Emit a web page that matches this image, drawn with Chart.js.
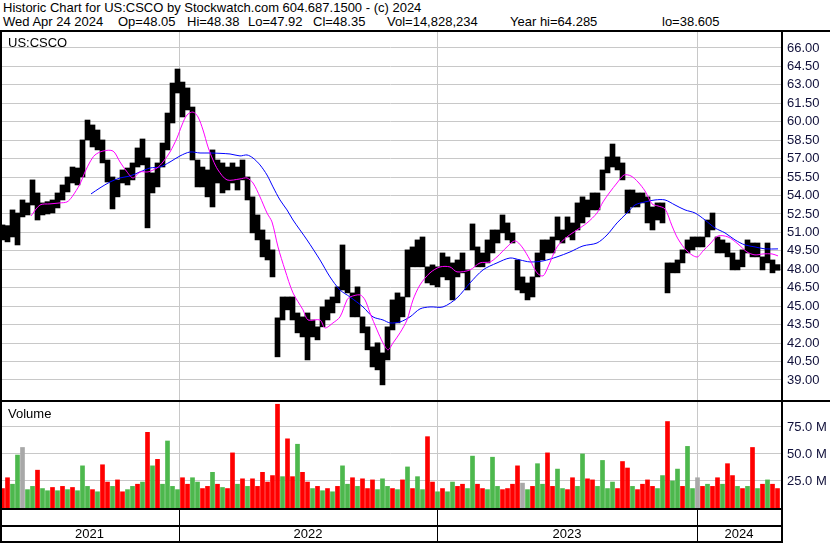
<!DOCTYPE html>
<html>
<head>
<meta charset="utf-8">
<title>US:CSCO Historic Chart</title>
<script src="https://cdn.jsdelivr.net/npm/chart.js@4.4.1/dist/chart.umd.min.js"></script>
<style>
  body { margin: 0; background: #fff; }
  #wrap { position: relative; width: 830px; height: 543px; overflow: hidden; font-family: "Liberation Sans", Arial, sans-serif; color: #000; }
  .hdr { position: absolute; font-size: 13px; line-height: 13px; white-space: pre; }
  .panel-label { position: absolute; font-size: 13px; line-height: 13px; }
  .rule { position: absolute; background: #000; }
  canvas { position: absolute; left: 0; }
</style>
</head>
<body>
<div id="wrap">
  <div class="hdr" style="left:3px;top:1px">Historic Chart for US:CSCO by Stockwatch.com 604.687.1500 - (c) 2024</div>
  <div class="hdr" style="left:3px;top:15px">Wed Apr 24 2024</div>
  <div class="hdr" style="left:118px;top:15px">Op=48.05</div>
  <div class="hdr" style="left:187px;top:15px">Hi=48.38</div>
  <div class="hdr" style="left:248px;top:15px">Lo=47.92</div>
  <div class="hdr" style="left:313px;top:15px">Cl=48.35</div>
  <div class="hdr" style="left:387px;top:15px">Vol=14,828,234</div>
  <div class="hdr" style="left:510px;top:15px">Year hi=64.285</div>
  <div class="hdr" style="left:662px;top:15px">lo=38.605</div>
  <canvas id="priceChart" width="830" height="368" style="top:32px"></canvas>
  <canvas id="volumeChart" width="830" height="142" style="top:401px"></canvas>
  <div class="panel-label" style="left:8px;top:36px">US:CSCO</div>
  <div class="panel-label" style="left:8px;top:407px">Volume</div>
  <div class="rule" style="left:0;top:30px;width:830px;height:2px"></div>
  <div class="rule" style="left:0;top:400px;width:830px;height:2px"></div>
  <div class="rule" style="left:0;top:30px;width:2px;height:513px"></div>
  <div class="rule" style="left:781px;top:30px;width:2px;height:513px"></div>
</div>
<script>
// Weekly (5-session) price ranges, Apr 2021 - Apr 2024
const priceHigh = [
  51.61, 51.55, 52.83, 52.58, 53.64, 53.40, 55.27, 54.21, 53.40, 53.50,
  53.64, 54.21, 54.86, 55.51, 56.32, 56.24, 58.52, 60.14, 59.74, 59.33,
  58.52, 56.89, 55.51, 55.27, 56.08, 56.24, 56.65, 57.87, 58.60, 57.06,
  55.84, 56.65, 58.27, 60.71, 63.15, 64.29, 63.23, 62.75, 61.20, 56.89,
  56.32, 56.08, 57.71, 56.89, 56.65, 56.32, 56.65, 56.32, 56.89, 55.51,
  53.89, 52.42, 51.20, 50.39, 49.58, 44.05, 45.75, 45.75, 45.75, 44.45,
  44.13, 44.45, 43.88, 43.32, 44.94, 45.51, 45.75, 46.57, 49.98, 47.95,
  46.08, 46.57, 44.13, 43.32, 41.69, 42.02, 41.20, 43.32, 45.51, 46.08,
  45.75, 49.58, 49.82, 50.39, 50.63, 48.20, 48.36, 48.20, 49.33, 49.01,
  48.52, 48.76, 49.33, 47.95, 51.69, 49.82, 49.33, 50.39, 51.20, 51.20,
  52.42, 51.77, 50.96, 48.76, 47.38, 46.89, 47.38, 49.33, 50.39, 50.39,
  50.63, 52.26, 51.20, 52.26, 51.77, 53.40, 53.89, 53.64, 54.21, 54.21,
  56.08, 57.14, 58.19, 57.14, 56.65, 54.45, 54.45, 54.21, 54.21, 53.89,
  53.07, 53.40, 53.40, 48.52, 48.52, 48.76, 49.58, 50.39, 50.63, 50.63,
  50.63, 52.01, 52.58, 50.63, 50.39, 50.14, 49.33, 48.76, 49.58, 50.39,
  50.14, 50.14, 49.01, 50.14, 48.76, 48.38
];
const priceLow = [
  50.39, 50.23, 50.63, 49.98, 52.26, 52.42, 53.23, 52.01, 52.42, 52.50,
  52.58, 52.99, 53.64, 54.29, 55.02, 54.86, 55.51, 58.52, 57.95, 57.71,
  56.65, 55.10, 52.91, 53.89, 55.02, 54.86, 55.27, 56.32, 56.49, 51.37,
  54.21, 54.70, 56.32, 57.71, 59.90, 62.34, 60.39, 60.96, 56.89, 54.70,
  54.70, 53.89, 53.07, 55.02, 54.21, 54.45, 55.02, 54.45, 55.27, 53.64,
  50.96, 50.39, 49.01, 48.76, 47.38, 40.88, 43.88, 44.70, 43.88, 42.83,
  42.50, 40.63, 42.50, 42.26, 43.32, 43.88, 44.45, 45.27, 46.32, 46.08,
  44.13, 44.13, 42.83, 41.45, 40.06, 39.82, 38.60, 40.63, 43.07, 43.64,
  44.13, 45.75, 48.20, 48.20, 48.20, 46.89, 46.73, 46.57, 47.38, 47.14,
  45.51, 47.38, 47.71, 46.32, 49.58, 48.20, 48.20, 48.52, 49.33, 50.14,
  50.96, 50.39, 50.14, 46.32, 46.08, 45.51, 45.75, 47.38, 48.76, 49.33,
  49.33, 50.39, 50.14, 50.63, 50.39, 51.20, 51.77, 52.26, 52.83, 52.83,
  54.45, 55.84, 56.32, 56.08, 55.27, 52.58, 53.07, 53.07, 53.40, 51.77,
  51.20, 52.01, 51.77, 46.08, 47.71, 47.71, 48.52, 49.33, 49.58, 49.82,
  49.82, 50.63, 51.20, 49.33, 49.33, 49.01, 47.95, 47.95, 48.20, 49.33,
  49.01, 49.01, 47.95, 48.52, 47.71, 47.92
];
// volume in millions, and direction (1 up, -1 down, 0 unchanged)
const volume = [
  18, 28, 22, 49, 56, 17, 20, 35, 18, 16,
  19, 16, 20, 17, 19, 16, 39, 20, 17, 15,
  40, 24, 20, 26, 15, 17, 20, 22, 24, 70,
  39, 45, 22, 62, 20, 17, 28, 22, 28, 24,
  18, 20, 33, 22, 19, 18, 51, 22, 27, 20,
  27, 20, 33, 24, 30, 96, 29, 64, 29, 59,
  33, 24, 18, 20, 16, 18, 15, 20, 39, 22,
  28, 20, 27, 18, 26, 17, 27, 20, 18, 17,
  26, 38, 18, 29, 17, 66, 24, 15, 18, 15,
  24, 20, 22, 18, 48, 22, 18, 17, 47, 20,
  17, 18, 22, 39, 23, 17, 20, 41, 22, 51,
  20, 36, 18, 17, 28, 20, 50, 27, 26, 20,
  44, 18, 24, 18, 43, 37, 20, 17, 22, 26,
  20, 18, 30, 80, 25, 36, 20, 57, 18, 28,
  20, 22, 20, 28, 22, 41, 30, 20, 18, 20,
  56, 18, 22, 26, 22, 18
];
const volumeDir = [
  -1, -1, 1, 1, 0, 1, 1, -1, 1, 1,
  -1, 1, -1, 1, -1, 1, 1, 1, -1, 1,
  -1, -1, 1, -1, -1, 1, 1, -1, 1, -1,
  1, -1, 1, 1, 1, 1, -1, -1, 1, 1,
  -1, -1, 1, -1, 1, -1, -1, 1, -1, 1,
  -1, -1, -1, -1, -1, -1, 1, -1, -1, 1,
  -1, -1, 1, -1, 1, -1, 1, -1, 1, 1,
  -1, 1, -1, -1, -1, 1, 1, 1, -1, 1,
  -1, 1, -1, 1, 1, -1, -1, 1, -1, 1,
  1, -1, -1, 1, 1, -1, -1, 1, 1, 1,
  -1, -1, -1, -1, 0, 1, -1, 1, 1, -1,
  -1, 1, 1, -1, -1, 1, 1, -1, -1, 1,
  1, 1, 1, -1, -1, -1, 1, -1, -1, -1,
  -1, 1, 1, -1, 1, 1, -1, 1, 1, 0,
  -1, 1, -1, -1, 1, -1, -1, 1, -1, 1,
  -1, 1, -1, 1, -1, -1
];
// moving averages as [session, price]
const maFast = [
  [31, 52.34], [40, 53.23], [50, 53.32], [60, 53.40], [67, 53.48], [72, 53.89], [80, 54.94], [85, 55.92],
  [90, 56.73], [95, 57.30], [103, 57.62], [113, 57.62], [120, 56.73], [127, 55.92], [133, 55.43], [140, 55.92],
  [148, 55.92], [157, 56.24], [163, 56.73], [170, 57.54], [177, 58.68], [182, 59.74], [187, 60.55], [193, 60.79],
  [198, 60.39], [203, 59.33], [208, 57.95], [213, 56.89], [218, 56.08], [227, 55.27], [240, 55.35], [247, 55.43],
  [253, 55.02], [260, 53.89], [267, 52.58], [272, 51.85], [278, 49.82], [285, 47.95], [293, 46.08], [303, 44.70],
  [308, 43.88], [320, 43.88], [325, 43.23], [333, 43.64], [340, 44.13], [347, 45.51], [350, 45.75], [360, 45.92],
  [365, 45.51], [370, 44.45], [377, 43.07], [383, 42.01], [388, 41.45], [393, 42.01], [400, 42.83], [407, 43.88],
  [413, 45.51], [420, 46.73], [430, 47.71], [440, 48.19], [450, 48.19], [457, 47.79], [470, 47.95], [480, 48.52],
  [490, 48.60], [497, 49.01], [507, 49.82], [515, 50.31], [522, 49.82], [530, 48.76], [537, 47.71], [543, 47.46],
  [548, 48.19], [557, 49.82], [567, 50.63], [577, 51.20], [587, 51.77], [597, 52.58], [603, 53.48], [610, 54.29],
  [617, 55.02], [624, 55.67], [631, 55.59], [638, 55.10], [645, 54.37], [652, 53.32], [658, 53.15], [665, 52.91],
  [672, 51.53], [678, 50.47], [687, 49.49], [697, 49.00], [703, 49.49], [710, 50.06], [718, 50.71], [728, 50.63],
  [738, 50.06], [747, 49.41], [755, 49.17], [763, 49.25], [772, 49.25], [778, 49.09]
];
const maSlow = [
  [91, 54.13], [100, 54.62], [110, 55.10], [120, 55.43], [130, 55.59], [140, 55.92], [150, 56.24], [160, 56.32],
  [170, 56.73], [180, 57.22], [190, 57.54], [200, 57.46], [210, 57.46], [230, 57.38], [240, 57.22], [247, 57.30],
  [253, 57.05], [260, 56.49], [267, 55.67], [273, 54.70], [280, 53.64], [287, 52.83], [293, 52.01], [307, 50.39],
  [320, 48.76], [330, 47.38], [340, 46.32], [350, 45.75], [363, 44.94], [373, 44.13], [383, 43.88], [390, 43.64],
  [400, 43.72], [410, 44.13], [420, 44.78], [430, 44.94], [443, 44.94], [457, 45.67], [470, 46.89], [483, 47.95],
  [497, 48.52], [510, 48.92], [520, 48.76], [530, 48.60], [543, 48.68], [557, 49.01], [570, 49.41], [583, 49.90],
  [597, 50.14], [607, 50.79], [617, 51.77], [627, 52.58], [635, 53.23], [645, 53.48], [655, 53.64], [665, 53.64],
  [675, 53.23], [685, 52.83], [695, 52.58], [705, 52.01], [715, 51.36], [725, 50.96], [735, 50.39], [745, 49.98],
  [755, 49.82], [765, 49.66], [778, 49.66]
];
const priceTicks = [39.00, 40.50, 42.00, 43.50, 45.00, 46.50, 48.00, 49.50, 51.00, 52.50,
  54.00, 55.50, 57.00, 58.50, 60.00, 61.50, 63.00, 64.50, 66.00];
const volumeTicks = [25, 50, 75];
const yearLabels = ['2021', '2022', '2023', '2024'];
const yearBreaks = [179, 437, 697];   // session where each new year starts
const sessionsPerBar = 5;
const lastSession = 781;

document.addEventListener('DOMContentLoaded', () => {
    const FONT = '"Liberation Sans", Arial, sans-serif';
    const GRID = '#c8c8c8';
    Chart.defaults.font.family = FONT;

    // shared session axis, grid lines only at year starts
    const sessionAxis = () => ({
        type: 'linear',
        min: 0,
        max: lastSession,
        offset: false,
        afterBuildTicks: s => { s.ticks = yearBreaks.map(v => ({ value: v })); },
        afterFit: s => { s.height = 0; s.paddingLeft = 0; s.paddingRight = 0; },
        grid: { color: GRID, drawTicks: false, offset: false },
        border: { display: false },
        ticks: { display: false }
    });

    const rightAxis = (ticks, min, max, fmt) => ({
        position: 'right',
        min: min,
        max: max,
        afterBuildTicks: s => { s.ticks = ticks.map(v => ({ value: v })); },
        afterFit: s => { s.width = 830 - lastSession; s.paddingTop = 0; s.paddingBottom = 0; },
        grid: { color: GRID, drawTicks: false },
        border: { display: false },
        ticks: { padding: 6, color: '#10103a', font: { size: 13 }, callback: fmt }
    });

    const barCenter = i => i * sessionsPerBar + sessionsPerBar / 2;

    // Price Chart
    new Chart(document.getElementById('priceChart'), {
        type: 'bar',
        data: {
            datasets: [
                {
                    type: 'line',
                    label: 'MA fast',
                    data: maFast.map(p => ({ x: p[0], y: p[1] })),
                    borderColor: '#ff00ff',
                    borderWidth: 1,
                    pointRadius: 0,
                    tension: 0.3,
                    order: 0
                },
                {
                    type: 'line',
                    label: 'MA slow',
                    data: maSlow.map(p => ({ x: p[0], y: p[1] })),
                    borderColor: '#0000ff',
                    borderWidth: 1,
                    pointRadius: 0,
                    tension: 0.3,
                    order: 0
                },
                {
                    label: 'US:CSCO',
                    data: priceLow.map((lo, i) => ({ x: barCenter(i), y: [lo, priceHigh[i]] })),
                    backgroundColor: '#000',
                    barThickness: 5,
                    order: 1
                }
            ]
        },
        options: {
            responsive: false,
            animation: false,
            events: [],
            plugins: { legend: { display: false }, tooltip: { enabled: false } },
            scales: {
                x: sessionAxis(),
                y: rightAxis(priceTicks, 37.37, 67.30, v => v.toFixed(2))
            }
        }
    });

    // Year strip under the volume panel
    const yearStrip = {
        id: 'yearStrip',
        afterDraw(chart) {
            const { ctx, chartArea, scales: { x } } = chart;
            const b = chartArea.bottom;
            const w = chartArea.right + 1;
            ctx.save();
            ctx.fillStyle = '#000';
            ctx.fillRect(0, b, w, 2);
            ctx.fillRect(0, b + 17, w, 2);
            ctx.fillRect(0, b + 33, w, 2);
            yearBreaks.forEach(s => ctx.fillRect(Math.round(x.getPixelForValue(s)), b, 1, 35));
            ctx.font = '13px ' + FONT;
            ctx.textAlign = 'center';
            ctx.textBaseline = 'middle';
            const edges = [x.min, ...yearBreaks, x.max];
            yearLabels.forEach((label, i) => {
                const mid = (x.getPixelForValue(edges[i]) + x.getPixelForValue(edges[i + 1])) / 2;
                ctx.fillText(label, mid, b + 26);
            });
            ctx.restore();
        }
    };

    // Volume Chart
    const dirColor = d => d > 0 ? '#4db84d' : d < 0 ? '#ff0000' : '#a8a8a8';
    new Chart(document.getElementById('volumeChart'), {
        type: 'bar',
        data: {
            datasets: [{
                label: 'Volume',
                data: volume.map((v, i) => ({ x: barCenter(i), y: v })),
                backgroundColor: volumeDir.map(dirColor),
                barThickness: 4
            }]
        },
        options: {
            responsive: false,
            animation: false,
            events: [],
            layout: { padding: { bottom: 35 } },
            plugins: { legend: { display: false }, tooltip: { enabled: false } },
            scales: {
                x: sessionAxis(),
                y: rightAxis(volumeTicks, 0, 99, v => v.toFixed(1) + ' M')
            }
        },
        plugins: [yearStrip]
    });
});
</script>
</body>
</html>
